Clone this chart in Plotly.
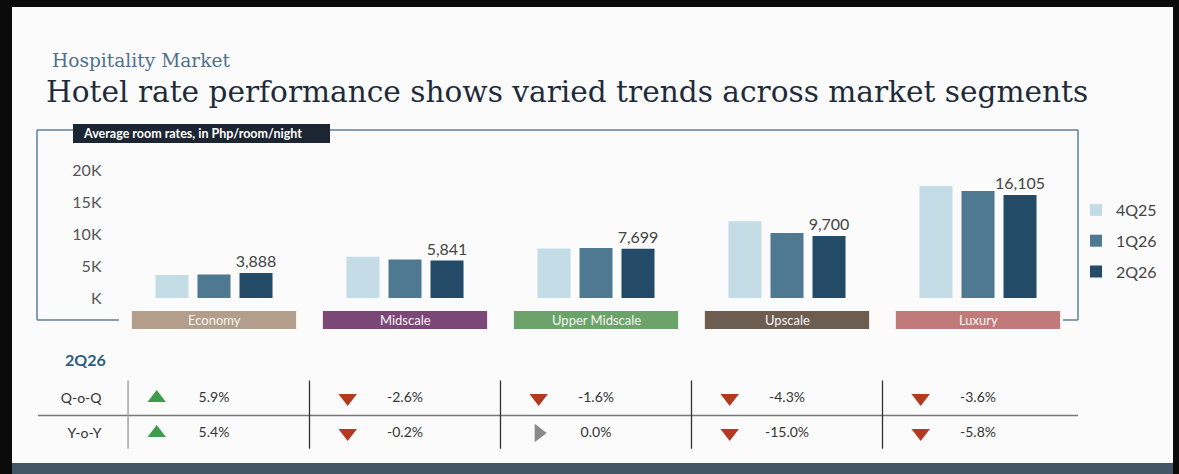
import plotly.graph_objects as go

W, H = 1179, 474

# ---------------- data ----------------
segments = ["Economy", "Midscale", "Upper Midscale", "Upscale", "Luxury"]
periods = ["4Q25", "1Q26", "2Q26"]
rate_4q25 = [3600, 6450, 7750, 12000, 17500]
rate_1q26 = [3670, 6000, 7820, 10140, 16700]
rate_2q26 = [3888, 5841, 7699, 9700, 16105]
y_tick_vals = [0, 5000, 10000, 15000, 20000]
y_tick_text = ["K", "5K", "10K", "15K", "20K"]
change_rows = ["Q-o-Q", "Y-o-Y"]
qoq_change = [5.9, -2.6, -1.6, -4.3, -3.6]
yoy_change = [5.4, -0.2, 0.0, -15.0, -5.8]

# ---------------- styles ----------------
bar_colors = ["#c3dce5", "#4e7990", "#234b68"]
band_colors = ["#b29e8b", "#7b4777", "#6ca36b", "#6d5d51", "#c07a7a"]
SANS = "Lato, 'Noto Sans', sans-serif"
SERIF = "'DejaVu Serif', 'Liberation Serif', serif"
FRAME = "#5f7f98"


def px(x):
    return x / W


def py(y):
    return 1 - y / H


fig = go.Figure()

rates = [rate_4q25, rate_1q26, rate_2q26]
for i, (p, vals) in enumerate(zip(periods, rates)):
    kw = {}
    if p == "2Q26":
        kw = dict(text=[f"{v:,}" for v in vals], textposition="outside",
                  textfont=dict(family=SANS, size=16, color="#444444"),
                  constraintext="none", cliponaxis=False)
    fig.add_trace(go.Bar(
        x=segments, y=vals, name=p, marker=dict(color=bar_colors[i], line=dict(width=0)),
        legendgroup=p, hoverinfo="x+y+name", **kw))

# change table (icons + values)
rows_vals = [qoq_change, yoy_change]
for r, (row_name, vals) in enumerate(zip(change_rows, rows_vals)):
    idx = list(range(len(segments)))
    symbols = ["triangle-up" if v > 0 else ("triangle-down" if v < 0 else "triangle-right") for v in vals]
    colors = ["#3f9b4c" if v > 0 else ("#b33a21" if v < 0 else "#8a8a8a") for v in vals]
    fig.add_trace(go.Scatter(
        x=[i - 0.3 for i in idx], y=[row_name] * len(vals), mode="markers",
        marker=dict(symbol=symbols, color=colors, size=16, line=dict(width=0)),
        xaxis="x2", yaxis="y2", showlegend=False, hoverinfo="skip"))
    fig.add_trace(go.Scatter(
        x=idx, y=[row_name] * len(vals), mode="text",
        text=[f"{v:.1f}%" for v in vals],
        textfont=dict(family=SANS, size=14, color="#333333"),
        xaxis="x2", yaxis="y2", showlegend=False, hoverinfo="skip"))

shapes = []
# photo background: black edges, white slide, dark city strip at the bottom
shapes.append(dict(type="rect", xref="paper", yref="paper", x0=px(12), x1=px(1173), y0=py(463), y1=py(7),
                   fillcolor="#fbfbfb", line=dict(width=0), layer="below"))
shapes.append(dict(type="rect", xref="paper", yref="paper", x0=px(12), x1=px(1173), y0=py(474), y1=py(463),
                   fillcolor="#425667", line=dict(width=0), layer="below"))
# frame around chart
for (x0, y0, x1, y1) in [(37, 130, 1078, 130), (37, 130, 37, 320), (1078, 130, 1078, 320),
                         (37, 320, 119, 320), (1063, 320, 1078, 320)]:
    shapes.append(dict(type="line", xref="paper", yref="paper", x0=px(x0), x1=px(x1), y0=py(y0), y1=py(y1),
                       line=dict(color=FRAME, width=1.5)))
# subtitle box
shapes.append(dict(type="rect", xref="paper", yref="paper", x0=px(73), x1=px(330), y0=py(143), y1=py(124),
                   fillcolor="#1c2632", line=dict(width=0)))
# category bands
for i, c in enumerate(band_colors):
    shapes.append(dict(type="rect", xref="x", yref="paper", x0=i - 0.43, x1=i + 0.43, y0=py(329), y1=py(311),
                       fillcolor=c, line=dict(width=0)))
# table lines
shapes.append(dict(type="line", xref="paper", yref="y2", x0=px(38), x1=px(1078), y0=0.5, y1=0.5,
                   line=dict(color="#777777", width=1.5)))
for i in range(len(segments)):
    xs = -0.45 if i == 0 else i - 0.5
    shapes.append(dict(type="line", xref="x2", yref="y2", x0=xs, x1=xs, y0=-0.55, y1=1.45,
                       line=dict(color="#999999" if i == 0 else "#333333", width=1.3)))

annotations = [
    dict(text="Hospitality Market", xref="paper", yref="paper", x=px(50), y=py(61), xanchor="left",
         yanchor="middle", showarrow=False, font=dict(family=SERIF, size=18.6, color="#4f708b")),
    dict(text="Hotel rate performance shows varied trends across market segments", xref="paper",
         yref="paper", x=px(44), y=py(92), xanchor="left", yanchor="middle", showarrow=False,
         font=dict(family=SERIF, size=29.6, color="#1f2b3b")),
    dict(text="<b>Average room rates, in Php/room/night</b>", xref="paper", yref="paper", x=px(81),
         y=py(133.5), xanchor="left", yanchor="middle", showarrow=False,
         font=dict(family=SANS, size=12.5, color="#ffffff")),
    dict(text="<b>2Q26</b>", xref="paper", yref="paper", x=px(63), y=py(359), xanchor="left",
         yanchor="middle", showarrow=False, font=dict(family=SANS, size=16, color="#2e5d7e")),
]
for i, s in enumerate(segments):
    annotations.append(dict(text=s, xref="x", yref="paper", x=s, y=py(320), xanchor="center",
                            yanchor="middle", showarrow=False,
                            font=dict(family=SANS, size=13, color="#f5f5f5")))

fig.update_layout(
    width=W, height=H, autosize=False,
    margin=dict(l=0, r=0, t=0, b=0, pad=0, autoexpand=False),
    paper_bgcolor="#0b0b0b", plot_bgcolor="rgba(0,0,0,0)",
    barmode="group", bargap=0.34, bargroupgap=0.214,
    xaxis=dict(domain=[px(118.5), px(1073.5)], type="category", categoryorder="array",
               categoryarray=segments, range=[-0.5, 4.5], showticklabels=False, showgrid=False,
               zeroline=False, showline=False, ticks="", fixedrange=True, automargin=False),
    yaxis=dict(domain=[py(298), py(170)], range=[0, 20000], tickvals=y_tick_vals, ticktext=y_tick_text,
               showgrid=False, zeroline=False, showline=False, ticks="", ticklabelstandoff=16,
               tickfont=dict(family=SANS, size=16, color="#555555"), fixedrange=True, automargin=False),
    xaxis2=dict(domain=[px(118.5), px(1073.5)], range=[-0.5, 4.5], anchor="y2", showticklabels=False,
                showgrid=False, zeroline=False, showline=False, ticks="", fixedrange=True, automargin=False),
    yaxis2=dict(domain=[py(450.5), py(380.5)], type="category", categoryorder="array",
                categoryarray=change_rows, range=[1.5, -0.5], anchor="x2", showgrid=False,
                zeroline=False, showline=False, ticks="", ticklabelstandoff=16,
                tickfont=dict(family=SANS, size=14, color="#333333"), fixedrange=True, automargin=False),
    legend=dict(x=px(1076), y=py(193), xanchor="left", yanchor="top", bgcolor="rgba(0,0,0,0)",
                font=dict(family=SANS, size=16, color="#444444"), tracegroupgap=7, itemwidth=30),
    shapes=shapes,
    annotations=annotations,
    showlegend=True,
)

fig.write_html(
    "out.html",
    config={"displayModeBar": False},
    post_script=(
        "document.documentElement.style.margin='0';document.body.style.margin='0';"
        "document.body.style.padding='0';document.body.style.overflow='hidden';"
        "document.documentElement.style.overflow='hidden';document.body.style.background='#0b0b0b';"
        "var d=document.getElementById('{plot_id}');d.style.position='fixed';"
        "d.style.top='0px';d.style.left='0px';"
    ),
)
